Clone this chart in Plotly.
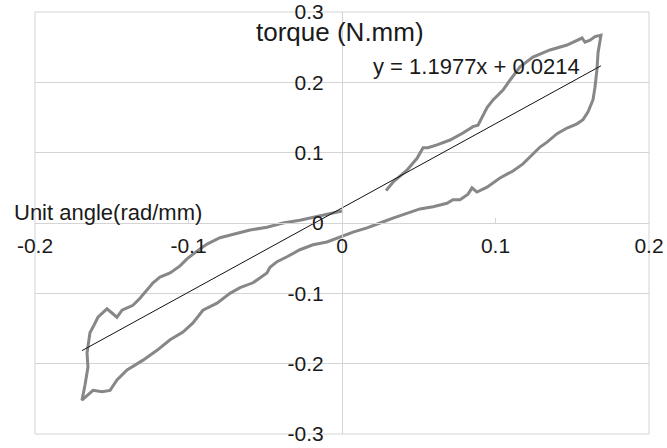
import plotly.graph_objects as go

# Hysteresis loop: unit angle (rad/mm) vs torque (N.mm)
angle = [
    0.0287, 0.0332, 0.0423, 0.0489, 0.0528, 0.0560, 0.0619, 0.0704, 0.0788, 0.0853,
    0.0886, 0.0912, 0.0945, 0.0984, 0.1049, 0.1094, 0.1160, 0.1244, 0.1355, 0.1466,
    0.1531, 0.1564, 0.1583, 0.1616, 0.1648, 0.1687,
    0.1668, 0.1661, 0.1648, 0.1635, 0.1603, 0.1570, 0.1531, 0.1466, 0.1401, 0.1336,
    0.1290, 0.1244, 0.1179, 0.1114, 0.1029, 0.0945, 0.0879, 0.0847, 0.0821, 0.0769,
    0.0723, 0.0684, 0.0593, 0.0508, 0.0423, 0.0332, 0.0248, 0.0163, 0.0072, -0.0013,
    -0.0098, -0.0189, -0.0274, -0.0358, -0.0423, -0.0469, -0.0489, -0.0580, -0.0664, -0.0730,
    -0.0814, -0.0906, -0.0971, -0.1036, -0.1120, -0.1205, -0.1296, -0.1400, -0.1466, -0.1511,
    -0.1564, -0.1622, -0.1674, -0.1694,
    -0.1674, -0.1655, -0.1661, -0.1642, -0.1622, -0.1590, -0.1531, -0.1498, -0.1466, -0.1433,
    -0.1362, -0.1316, -0.1270, -0.1231, -0.1186, -0.1120, -0.1055, -0.1010, -0.0945, -0.0879,
    -0.0795, -0.0710, -0.0599, -0.0489, -0.0384, -0.0274, -0.0124, 0.0000,
]
torque = [
    0.046, 0.058, 0.075, 0.092, 0.107, 0.107, 0.111, 0.118, 0.128, 0.137,
    0.139, 0.151, 0.164, 0.175, 0.189, 0.203, 0.222, 0.236, 0.246, 0.253,
    0.260, 0.263, 0.257, 0.260, 0.265, 0.267,
    0.242, 0.218, 0.193, 0.175, 0.158, 0.147, 0.141, 0.135, 0.127, 0.115,
    0.108, 0.098, 0.084, 0.074, 0.064, 0.051, 0.044, 0.050, 0.041, 0.033,
    0.033, 0.028, 0.023, 0.020, 0.014, 0.007, 0.000, -0.007, -0.013, -0.020,
    -0.027, -0.031, -0.038, -0.048, -0.055, -0.063, -0.071, -0.085, -0.092, -0.100,
    -0.114, -0.124, -0.142, -0.155, -0.166, -0.181, -0.195, -0.209, -0.223, -0.238,
    -0.240, -0.238, -0.248, -0.252,
    -0.230, -0.205, -0.185, -0.156, -0.148, -0.134, -0.122, -0.128, -0.134, -0.124,
    -0.117, -0.107, -0.095, -0.085, -0.077, -0.071, -0.061, -0.051, -0.040, -0.030,
    -0.021, -0.016, -0.010, -0.006, 0.000, 0.004, 0.011, 0.017,
]

# Linear trend line
slope = 1.1977
intercept = 0.0214
trend_x = [-0.1694, 0.1687]
trend_y = [slope * v + intercept for v in trend_x]

x_ticks = [-0.2, -0.1, 0, 0.1, 0.2]
y_ticks = [-0.3, -0.2, -0.1, 0, 0.1, 0.2, 0.3]
x_tick_text = ["-0.2", "-0.1", "0", "0.1", "0.2"]
y_tick_text = ["-0.3", "-0.2", "-0.1", "0", "0.1", "0.2", "0.3"]

FONT = "Liberation Sans, Arial, sans-serif"
GRID = "#d4d4d4"

fig = go.Figure()
fig.add_trace(go.Scatter(x=angle, y=torque, mode="lines",
                         line=dict(color="#878787", width=3), showlegend=False))
fig.add_trace(go.Scatter(x=trend_x, y=trend_y, mode="lines",
                         line=dict(color="#111111", width=1), showlegend=False))

fig.update_layout(
    width=667, height=448,
    margin=dict(l=35, r=18, t=12, b=14),
    paper_bgcolor="white", plot_bgcolor="white",
    font=dict(family=FONT, size=21, color="#1a1a1a"),
    xaxis=dict(range=[-0.2, 0.2], tickvals=x_ticks, ticktext=x_tick_text,
               showgrid=False, zeroline=False, showline=True, linecolor=GRID, linewidth=1,
               anchor="free", position=0.5, ticks="inside", ticklen=5, tickcolor=GRID,
               ticklabelstandoff=4, automargin=False, ticklabeloverflow="allow"),
    yaxis=dict(range=[-0.3, 0.3], tickvals=y_ticks, ticktext=y_tick_text,
               showgrid=True, gridcolor=GRID, gridwidth=1, zeroline=False,
               showline=True, linecolor=GRID, linewidth=1,
               anchor="free", position=0.5, ticks="", ticklabelstandoff=14,
               automargin=False, ticklabeloverflow="allow"),
    shapes=[dict(type="rect", xref="x domain", yref="y domain", x0=0, x1=1, y0=0, y1=1,
                 line=dict(color=GRID, width=1), layer="below")],
    annotations=[
        dict(text="torque (N.mm)", xref="x", yref="paper", x=-0.001, y=0.953,
             showarrow=False, xanchor="center", yanchor="middle", font=dict(size=26)),
        dict(text="Unit angle(rad/mm)", xref="paper", yref="y", x=-0.0375, y=0.015,
             showarrow=False, xanchor="left", yanchor="middle", font=dict(size=22)),
        dict(text="y = 1.1977x + 0.0214", xref="x", yref="y", x=0.0873, y=0.222,
             showarrow=False, xanchor="center", yanchor="middle", font=dict(size=22)),
    ],
)

# Remove the default 8px page margin so the figure sits at the window's corner.
fig.write_html("out.html", config={"displayModeBar": False},
               post_script="document.body.style.margin='0';")
